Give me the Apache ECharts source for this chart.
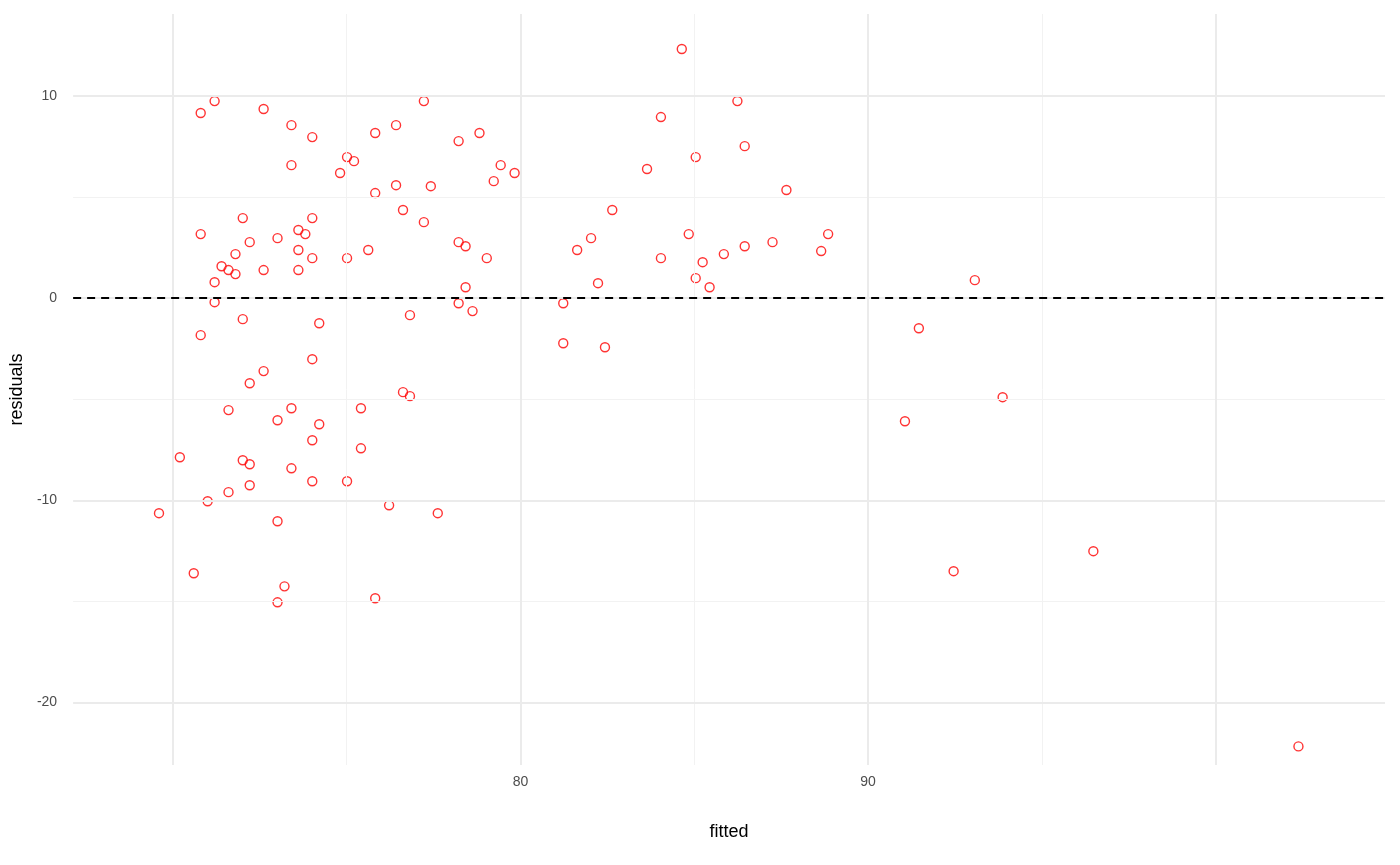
<!DOCTYPE html>
<html><head><meta charset="utf-8">
<script src="https://cdn.jsdelivr.net/npm/echarts@6/dist/echarts.min.js"></script>
<style>html,body{margin:0;background:#fff}#c{width:1400px;height:865px}</style>
</head><body><div id="c"></div>
<script>
var fitted = [69.60,70.20,70.60,70.80,70.80,70.80,71.00,71.20,71.20,71.20,71.40,71.60,71.60,71.60,71.80,71.80,72.01,72.01,72.01,72.21,72.21,72.21,72.21,72.61,72.61,72.61,73.01,73.01,73.01,73.01,73.21,73.41,73.41,73.41,73.41,73.61,73.61,73.61,73.81,74.01,74.01,74.01,74.01,74.01,74.01,74.21,74.21,74.81,75.01,75.01,75.01,75.21,75.41,75.41,75.62,75.82,75.82,75.82,76.22,76.42,76.42,76.62,76.62,76.82,76.82,77.22,77.22,77.42,77.62,78.22,78.22,78.22,78.42,78.42,78.62,78.82,79.03,79.23,79.43,79.83,81.23,81.23,81.63,82.03,82.23,82.43,82.64,83.64,84.04,84.04,84.64,84.84,85.04,85.04,85.24,85.44,85.85,86.24,86.45,86.45,87.25,87.65,88.65,88.85,91.06,91.46,92.46,93.07,93.87,96.48,102.38];
var residuals = [-10.64,-7.87,-13.61,9.16,3.17,-1.83,-10.05,9.75,0.79,-0.20,1.58,1.39,-5.54,-9.60,2.18,1.19,3.96,-1.04,-8.02,2.77,-4.21,-8.22,-9.26,9.36,1.39,-3.61,2.97,-6.04,-11.04,-15.05,-14.26,8.56,6.58,-5.45,-8.42,3.37,2.38,1.39,3.17,7.97,3.96,1.98,-3.02,-7.03,-9.06,-1.24,-6.24,6.19,6.98,1.98,-9.06,6.78,-5.45,-7.43,2.38,8.17,5.20,-14.85,-10.25,8.56,5.59,4.36,-4.65,-0.84,-4.85,9.75,3.76,5.54,-10.64,7.77,2.77,-0.25,2.57,0.54,-0.64,8.17,1.98,5.79,6.58,6.19,-0.25,-2.23,2.38,2.97,0.74,-2.43,4.36,6.39,8.96,1.98,12.33,3.17,6.98,0.99,1.78,0.54,2.18,9.75,7.52,2.57,2.77,5.35,2.33,3.17,-6.09,-1.49,-13.51,0.89,-4.90,-12.52,-22.18];
var xMajor = [70, 80, 90, 100];
var xMinor = [75, 85, 95];
var yMajor = [-20, -10, 0, 10];
var yMinor = [-15, -5, 5];

var pts = fitted.map(function (v, i) { return [v, residuals[i]]; });
var chart = echarts.init(document.getElementById('c'));
var lab = {color: '#4d4d4d', fontSize: 14, fontFamily: 'Liberation Sans, Arial'};
var nameStyle = {color: '#000', fontSize: 18, fontFamily: 'Liberation Sans, Arial'};

function gridLines(arr, key, width, color) {
    return arr.map(function (v) {
        var d = {lineStyle: {color: color, width: width, type: 'solid'}};
        d[key] = v;
        return d;
    });
}

chart.setOption({
    animation: false,
    grid: {left: 68, right: 15, top: 14, bottom: 100},
    xAxis: {
        type: 'value', min: 67.13, max: 104.87,
        name: 'fitted', nameLocation: 'middle', nameGap: 58, nameTextStyle: nameStyle,
        axisLine: {show: false}, axisTick: {show: false},
        axisLabel: Object.assign({margin: 10, customValues: xMajor, showMinLabel: false, showMaxLabel: false}, lab),
        splitLine: {show: false}
    },
    yAxis: {
        type: 'value', min: -23.1, max: 14.06,
        name: 'residuals', nameLocation: 'middle', nameGap: 42, nameTextStyle: nameStyle,
        axisLine: {show: false}, axisTick: {show: false},
        axisLabel: Object.assign({margin: 16, customValues: yMajor}, lab),
        splitLine: {show: false}
    },
    series: [{
        type: 'scatter', data: [], z: 0,
        markLine: {
            silent: true, symbol: 'none', label: {show: false}, animation: false,
            data: [].concat(
                gridLines(xMinor, 'xAxis', 1, '#f2f2f2'),
                gridLines(yMinor, 'yAxis', 1, '#f2f2f2'),
                gridLines(xMajor, 'xAxis', 2, '#ebebeb'),
                gridLines(yMajor, 'yAxis', 2, '#ebebeb')
            )
        }
    }, {
        type: 'scatter', data: pts, symbol: 'circle', symbolSize: 9, z: 3,
        itemStyle: {color: 'rgba(0,0,0,0)', borderColor: '#ff0000', borderWidth: 1.4},
        markLine: {
            silent: true, symbol: 'none', label: {show: false},
            lineStyle: {color: '#000', type: [8, 6], width: 2},
            data: [{yAxis: 0}]
        }
    }]
});
</script></body></html>
